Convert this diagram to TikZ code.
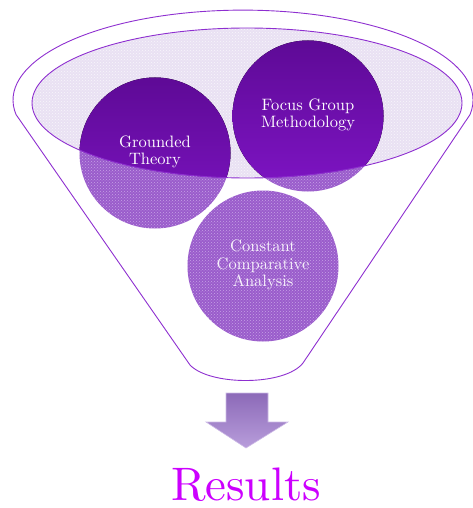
\documentclass[tikz,border=0pt]{standalone}
\usepackage{fontspec}
\setmainfont{lmroman10-regular.otf}
\usetikzlibrary{patterns}
\definecolor{lineP}{HTML}{8E2FD0}
\definecolor{darkP}{HTML}{5E0A96}
\definecolor{darkP2}{HTML}{7E14C4}
\definecolor{midP}{HTML}{9A5CCB}
\definecolor{dotP}{HTML}{C7A2E6}
\definecolor{lavP}{HTML}{E9E1F3}
\definecolor{arrTop}{HTML}{8C6AB8}
\definecolor{arrBot}{HTML}{B89DDB}
\definecolor{resP}{HTML}{CC00FF}
\tikzset{
  outl/.style={draw=lineP, line width=0.9pt},
  lightcirc/.style={fill=midP},
  dotted fill/.style={pattern=crosshatch dots, pattern color=dotP},
  darkcirc/.style={top color=darkP, bottom color=darkP2},
  ctext/.style={text=white, align=center, font=\fontsize{16.5}{17.5}\selectfont},
}
\begin{document}
\begin{tikzpicture}[x=1pt,y=-1pt]
\useasboundingbox (0,0) rectangle (472,508);
% funnel outline
\coordinate (fl) at (16,114.5);
\coordinate (fr) at (470,114.5);
\coordinate (bl) at (190,365);
\coordinate (br) at (303,363);
\draw[outl] (fl) arc[start angle=170.8, end angle=369.2, x radius=230, y radius=90]
  -- (br) .. controls (285,386) and (210,386) .. (bl) -- cycle;
% inner ellipse fill
\fill[lavP] (247,103) ellipse[x radius=215, y radius=75];
\fill[pattern=crosshatch dots, pattern color=white!70!lavP] (247,103) ellipse[x radius=215, y radius=75];
% light circles
\foreach \c in {(155,153),(308,116),(263,266)}{
  \fill[lightcirc] \c circle[radius=75.5];
  \fill[dotted fill] \c circle[radius=75.5];
}
% dark parts inside inner ellipse
\begin{scope}
  \clip (247,103) ellipse[x radius=215, y radius=75];
  \fill[darkcirc] (155,153) circle[radius=75.5];
  \fill[darkcirc] (308,116) circle[radius=75.5];
\end{scope}
% inner ellipse border
\draw[outl] (247,103) ellipse[x radius=215, y radius=75];
% texts
\node[ctext] (gt) at (155,152) {Grounded\\Theory};
\node[ctext] (fg) at (308,115) {Focus Group\\Methodology};
\node[ctext, text=white!92!midP] (cc) at (263,265) {Constant\\Comparative\\Analysis};
% arrow
\coordinate (a1) at (226,393);
\coordinate (a2) at (268,393);
\coordinate (a3) at (268,422);
\coordinate (a4) at (288,422);
\coordinate (a5) at (246,448);
\coordinate (a6) at (206,422);
\coordinate (a7) at (226,422);
\shade[top color=arrTop, bottom color=arrBot, draw=arrBot!70!white, line width=0.6pt]
  (a1) -- (a2) -- (a3) -- (a4) -- (a5) -- (a6) -- (a7) -- cycle;
% results
\node[anchor=base, text=resP, font=\fontsize{47}{50}\selectfont, inner sep=0pt] (res) at (246,500) {Results};
\end{tikzpicture}
\end{document}
